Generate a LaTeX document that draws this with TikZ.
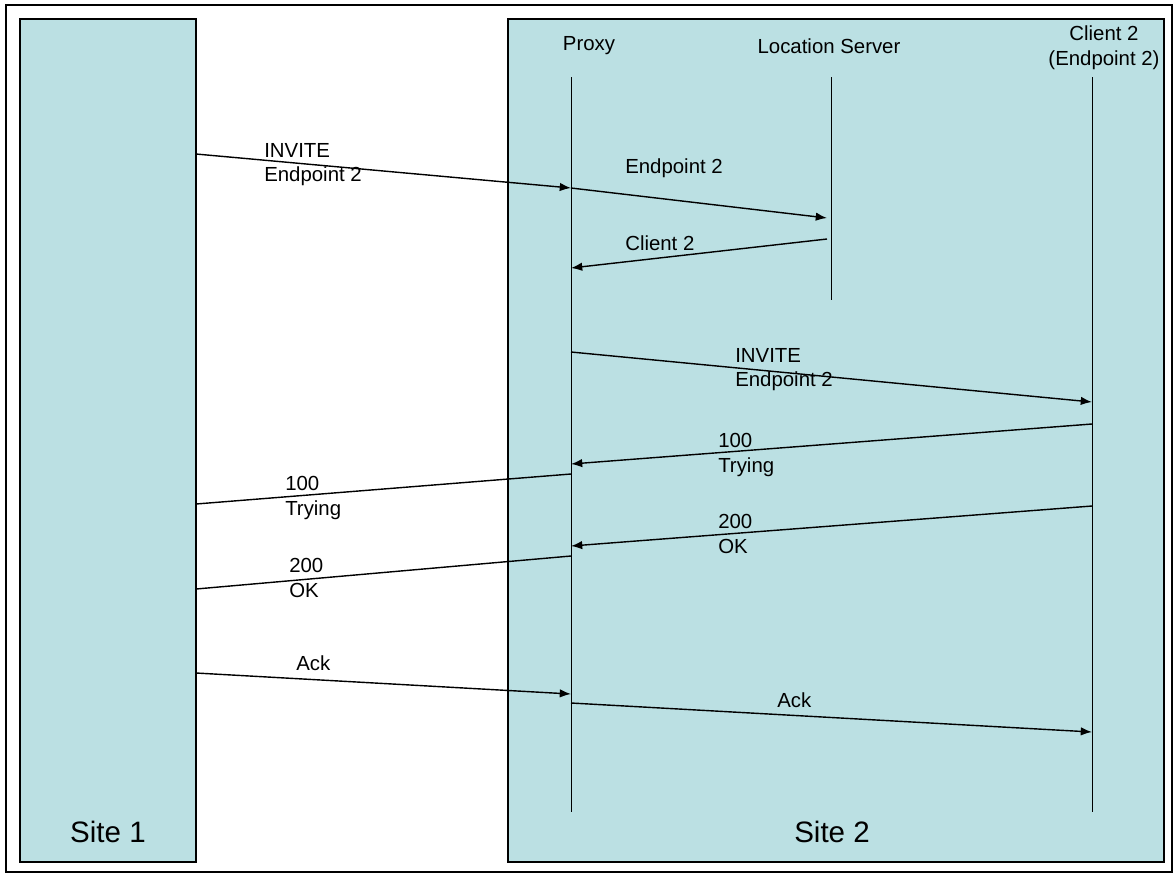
\documentclass[tikz,border=0pt]{standalone}
\usepackage{fontspec}
\setmainfont{Liberation Sans}
\usetikzlibrary{arrows.meta}
\definecolor{sitefill}{RGB}{187,224,227}
\tikzset{
  site/.style={draw=black, fill=sitefill, line width=0.8pt},
  lifeline/.style={draw=black, line width=0.6pt},
  msg/.style={draw=black, line width=1pt, -{Latex[length=8pt,width=6pt]}},
  plainmsg/.style={draw=black, line width=1pt},
  lbl/.style={anchor=north west, inner sep=0pt, align=left, font=\fontsize{14.5}{17.5}\selectfont},
  hdr/.style={inner sep=0pt, align=center, font=\fontsize{14.5}{17.5}\selectfont},
  sitelbl/.style={inner sep=0pt, font=\fontsize{21}{25}\selectfont}
}
\begin{document}
\begin{tikzpicture}[x=0.025cm, y=-0.025cm]
  \useasboundingbox (0,0) rectangle (1176,877);
  % outer frame
  \draw[line width=1.8pt] (6,5) rectangle (1172,872);
  % the two sites
  \draw[site] (20,19) rectangle (196,862);
  \draw[site] (508,19) rectangle (1164,862);
  \node[sitelbl] (site1) at (108,832) {Site 1};
  \node[sitelbl] (site2) at (832,832) {Site 2};

  % headers
  \node[hdr] (proxy) at (589,46) {Proxy};
  \node[hdr] (locsrv) at (829,46) {Location Server};
  \node[hdr] (client) at (1104,48) {Client 2\\(Endpoint 2)};

  % lifelines
  \coordinate (proxytop) at (571,77);
  \coordinate (proxybot) at (571,812);
  \coordinate (loctop) at (831,77);
  \coordinate (locbot) at (831,300);
  \coordinate (clienttop) at (1092,77);
  \coordinate (clientbot) at (1092,812);
  \draw[lifeline] (proxytop) -- (proxybot);
  \draw[lifeline] (loctop) -- (locbot);
  \draw[lifeline] (clienttop) -- (clientbot);

  % INVITE from site 1
  \coordinate (inv1a) at (196,154);
  \coordinate (inv1b) at (571,188);
  \draw[msg] (inv1a) -- (inv1b);
  \node[lbl] (inv1) at (264,143) {INVITE\\Endpoint 2};

  % lookup at the location server
  \coordinate (lookupa) at (571,188);
  \coordinate (lookupb) at (827,218);
  \draw[msg] (lookupa) -- (lookupb);
  \node[lbl] (lookup) at (625,158) {Endpoint 2};
  \coordinate (answera) at (827,239);
  \coordinate (answerb) at (571,268);
  \draw[msg] (answera) -- (answerb);
  \node[lbl] (answer) at (625,235) {Client 2};

  % INVITE to client 2
  \coordinate (inv2a) at (571,352);
  \coordinate (inv2b) at (1092,402);
  \draw[msg] (inv2a) -- (inv2b);
  \node[lbl] (inv2) at (735,348) {INVITE\\Endpoint 2};

  % 100 Trying
  \coordinate (try2a) at (1092,424);
  \coordinate (try2b) at (571,464);
  \draw[msg] (try2a) -- (try2b);
  \node[lbl] (try2) at (718,433) {100\\Trying};
  \coordinate (try1a) at (571,474);
  \coordinate (try1b) at (196,504);
  \draw[plainmsg] (try1a) -- (try1b);
  \node[lbl] (try1) at (285,476) {100\\Trying};

  % 200 OK
  \coordinate (ok2a) at (1092,506);
  \coordinate (ok2b) at (571,546);
  \draw[msg] (ok2a) -- (ok2b);
  \node[lbl] (ok2) at (718,514) {200\\OK};
  \coordinate (ok1a) at (571,556);
  \coordinate (ok1b) at (196,589);
  \draw[plainmsg] (ok1a) -- (ok1b);
  \node[lbl] (ok1) at (289,558) {200\\OK};

  % Ack
  \coordinate (ack1a) at (196,673);
  \coordinate (ack1b) at (571,694);
  \draw[msg] (ack1a) -- (ack1b);
  \node[lbl] (ack1) at (296,655) {Ack};
  \coordinate (ack2a) at (571,703);
  \coordinate (ack2b) at (1092,732);
  \draw[msg] (ack2a) -- (ack2b);
  \node[lbl] (ack2) at (777,692) {Ack};
\end{tikzpicture}
\end{document}
